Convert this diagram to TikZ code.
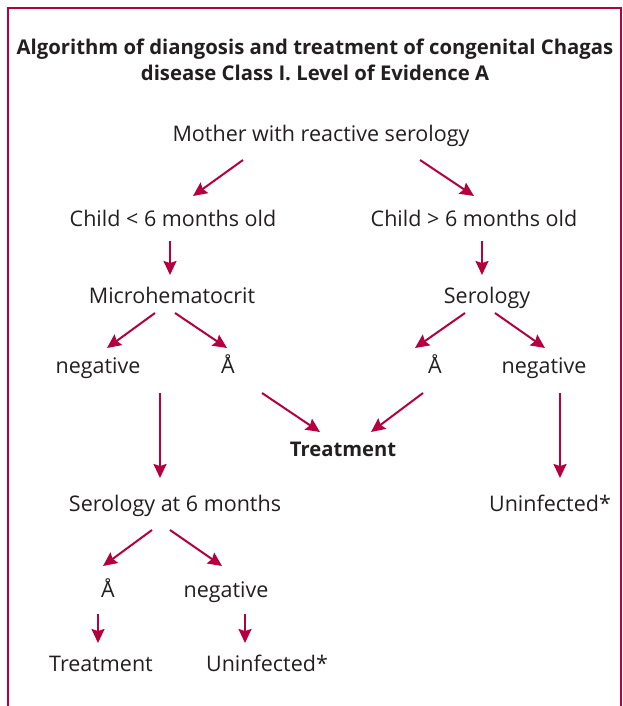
\documentclass[tikz,border=0pt]{standalone}
\usepackage{fontspec}
\setmainfont{Open Sans}
\usetikzlibrary{arrows.meta}
\definecolor{crim}{RGB}{181,0,62}
\definecolor{ink}{RGB}{35,31,32}
\begin{document}
\begin{tikzpicture}[x=1pt,y=-1pt,
  lbl/.style={anchor=base,inner sep=0pt,text=ink,font=\fontsize{21.5}{24}\selectfont},
  ttl/.style={anchor=base,inner sep=0pt,text=ink,font=\fontsize{20.3}{26}\selectfont\bfseries},
  arr/.style={draw=crim,line width=2pt,-{Stealth[length=14pt,width=13pt,inset=2pt]}},
  frame/.style={draw=crim,line width=2.5pt}]
\useasboundingbox (0,0) rectangle (622,706);
\draw[frame] (8,706) -- (8,8) -- (621,8) -- (621,706);
\node[ttl] (t1) at (315,55) {Algorithm of diangosis and treatment of congenital Chagas};
\node[ttl] (t2) at (315,81) {disease Class I. Level of Evidence A};
\node[lbl] (mother) at (321,142) {Mother with reactive serology};
\node[lbl] (c1) at (173,226) {Child < 6 months old};
\node[lbl] (c2) at (474,226) {Child > 6 months old};
\node[lbl] (micro) at (172,303) {Microhematocrit};
\node[lbl] (ser) at (487,303) {Serology};
\node[lbl] (neg1) at (98,373) {negative};
\node[lbl] (a1) at (228,373) {Å};
\node[lbl] (a2) at (435,373) {Å};
\node[lbl] (neg2) at (544,373) {negative};
\node[lbl,font=\fontsize{20.2}{24}\selectfont\bfseries] (treat) at (343,456) {Treatment};
\node[lbl] (ser6) at (175,511) {Serology at 6 months};
\node[lbl] (uninf1) at (550,511) {Uninfected*};
\node[lbl] (a3) at (108,597) {Å};
\node[lbl] (neg3) at (226,597) {negative};
\node[lbl] (treat2) at (101,671) {Treatment};
\node[lbl] (uninf2) at (267,671) {Uninfected*};
\draw[arr] ([shift={(-78,18)}]mother.base) -- ([shift={(20,-30)}]c1.base);
\draw[arr] ([shift={(99,18)}]mother.base) -- ([shift={(0,-30)}]c2.base);
\draw[arr] ([shift={(-3,15)}]c1.base) -- ([shift={(-2,-28)}]micro.base);
\draw[arr] ([shift={(8,15)}]c2.base) -- ([shift={(-5,-28)}]ser.base);
\draw[arr] ([shift={(-17,10)}]micro.base) -- ([shift={(9,-25)}]neg1.base);
\draw[arr] ([shift={(3,10)}]micro.base) -- ([shift={(-1,-25)}]a1.base);
\draw[arr] ([shift={(-22,10)}]ser.base) -- ([shift={(-20,-25)}]a2.base);
\draw[arr] ([shift={(8,10)}]ser.base) -- ([shift={(1,-25)}]neg2.base);
\draw[arr] ([shift={(34,20)}]a1.base) -- ([shift={(-23,-24)}]treat.base);
\draw[arr] ([shift={(-12,20)}]a2.base) -- ([shift={(28,-24)}]treat.base);
\draw[arr] ([shift={(62,20)}]neg1.base) -- ([shift={(-15,-33)}]ser6.base);
\draw[arr] ([shift={(16,20)}]neg2.base) -- ([shift={(10,-33)}]uninf1.base);
\draw[arr] ([shift={(-23,19)}]ser6.base) -- ([shift={(-5,-31)}]a3.base);
\draw[arr] ([shift={(-5,19)}]ser6.base) -- ([shift={(-4,-31)}]neg3.base);
\draw[arr] ([shift={(-10,17)}]a3.base) -- ([shift={(-3,-28)}]treat2.base);
\draw[arr] ([shift={(19,17)}]neg3.base) -- ([shift={(-22,-28)}]uninf2.base);
\end{tikzpicture}
\end{document}
